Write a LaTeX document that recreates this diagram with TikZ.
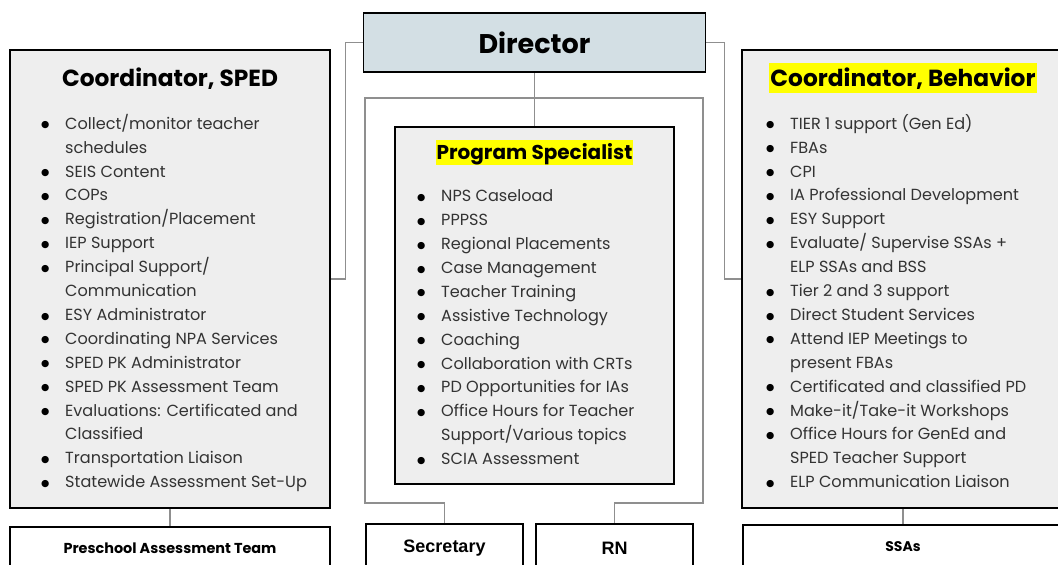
\documentclass[tikz,border=0pt]{standalone}
\usepackage{fontspec}
\setmainfont{Poppins}
\newfontfamily\arialfont{Liberation Sans}
\newfontfamily\dotfont{DejaVu Sans}
\usetikzlibrary{positioning,backgrounds}
\definecolor{DirFill}{HTML}{D3DFE4}
\definecolor{RoleFill}{HTML}{EEEEEE}
\definecolor{LinkGray}{HTML}{8F8F8F}
\definecolor{ListGray}{HTML}{333333}
\definecolor{MarkYellow}{HTML}{FFFF00}
\newcommand{\dutydot}{\raisebox{1.4pt}{\fontsize{9.5}{10}\dotfont\color{black}●}}
\newcommand{\dutyitem}{\strut\makebox[23pt][l]{\hspace{-1pt}\dutydot}}
\newcommand{\dutycont}{\strut\hspace{23pt}}
\tikzset{
  dirbox/.style={
    draw=black,line width=1.6pt,fill=DirFill,inner sep=0pt,
    minimum width=342pt,minimum height=59pt,
    font=\fontsize{27}{30}\selectfont\bfseries
  },
  rolebox/.style={draw=black,line width=1.6pt,fill=RoleFill,inner sep=0pt},
  staffbox/.style={draw=black,line width=1.6pt,fill=white,inner sep=0pt},
  roletitle/.style={
    anchor=base,inner xsep=1pt,inner ysep=0pt,
    font=\fontsize{23.3}{26}\selectfont\bfseries
  },
  marked/.style 2 args={fill=MarkYellow,text height=#1,text depth=#2},
  dutylist/.style={
    anchor=north west,align=left,inner sep=0pt,text=ListGray,
    font=\fontsize{16.1}{23.9}\selectfont
  },
  link/.style={draw=LinkGray,line width=1.2pt},
}

\begin{document}
\begin{tikzpicture}[x=1pt,y=-1pt]
  \useasboundingbox (0,0) rectangle (1058,565);
  \clip (0,0) rectangle (1058,565);
  % boxes
  \node[dirbox] (dir) at (534.5,42.5) {Director};
  \node[rolebox,minimum width=320pt,minimum height=458pt] (sped) at (170,279) {};
  \node[rolebox,minimum width=322pt,minimum height=458pt] (beh) at (903,279) {};
  \node[rolebox,minimum width=279pt,minimum height=357pt] (prog) at (534.5,305.5) {};
  \node[staffbox,minimum width=320pt,minimum height=42pt,
    font=\fontsize{14.4}{16}\selectfont\bfseries] (pre) at (170,548) {Preschool Assessment Team};
  \node[staffbox,minimum width=157pt,minimum height=48pt,
    font=\fontsize{18}{20}\arialfont\bfseries] (sec) at (444.5,548) {Secretary};
  \node[staffbox,minimum width=157pt,minimum height=48pt,
    font=\fontsize{18}{20}\arialfont\bfseries] (rn) at (614.5,548) {RN};
  \node[staffbox,minimum width=320pt,minimum height=44pt,
    font=\fontsize{14}{16}\selectfont\bfseries] (ssa) at (903,547) {SSAs};
  % titles
  \node[roletitle] (spedtitle) at (170,86.7) {Coordinator, SPED};
  \node[roletitle,marked={23.5pt}{6.3pt}] (behtitle) at (903,86.7) {Coordinator, Behavior};
  \node[roletitle,marked={19.3pt}{5.7pt},font=\fontsize{20}{24}\selectfont\bfseries]
    (progtitle) at (534.5,159.3) {Program Specialist};
  % duty lists
  \node[dutylist] (spedlist) at (42,112.3) {
    \dutyitem Collect/monitor teacher\\
    \dutycont schedules\\
    \dutyitem SEIS Content\\
    \dutyitem COPs\\
    \dutyitem Registration/Placement\\
    \dutyitem IEP Support\\
    \dutyitem Principal Support/\\
    \dutycont Communication\\
    \dutyitem ESY Administrator\\
    \dutyitem Coordinating NPA Services\\
    \dutyitem SPED PK Administrator\\
    \dutyitem SPED PK Assessment Team\\
    \dutyitem Evaluations: Certificated and\\
    \dutycont Classified\\
    \dutyitem Transportation Liaison\\
    \dutyitem Statewide Assessment Set-Up};
  \node[dutylist] (behlist) at (767,112.3) {
    \dutyitem TIER 1 support (Gen Ed)\\
    \dutyitem FBAs\\
    \dutyitem CPI\\
    \dutyitem IA Professional Development\\
    \dutyitem ESY Support\\
    \dutyitem Evaluate/ Supervise SSAs +\\
    \dutycont ELP SSAs and BSS\\
    \dutyitem Tier 2 and 3 support\\
    \dutyitem Direct Student Services\\
    \dutyitem Attend IEP Meetings to\\
    \dutycont present FBAs\\
    \dutyitem Certificated and classified PD\\
    \dutyitem Make-it/Take-it Workshops\\
    \dutyitem Office Hours for GenEd and\\
    \dutycont SPED Teacher Support\\
    \dutyitem ELP Communication Liaison};
  \node[dutylist] (proglist) at (418,184.8) {
    \dutyitem NPS Caseload\\
    \dutyitem PPPSS\\
    \dutyitem Regional Placements\\
    \dutyitem Case Management\\
    \dutyitem Teacher Training\\
    \dutyitem Assistive Technology\\
    \dutyitem Coaching\\
    \dutyitem Collaboration with CRTs\\
    \dutyitem PD Opportunities for IAs\\
    \dutyitem Office Hours for Teacher\\
    \dutycont Support/Various topics\\
    \dutyitem SCIA Assessment};
  % connectors
  \begin{scope}[on background layer]
    \coordinate (hub) at (534.5,98);
    \draw[link] (dir.west) -- ++(-17,0) |- (sped.east);
    \draw[link] (dir.east) -- ++(18,0) |- (beh.west);
    \draw[link] (dir.south) -- (prog.north);
    \draw[link] (hub) -| (365,503) -| (sec.north);
    \draw[link] (hub) -| (703,503) -| (rn.north);
    \draw[link] (sped.south) -- (pre.north);
    \draw[link] (beh.south) -- (ssa.north);
  \end{scope}
\end{tikzpicture}
\end{document}
